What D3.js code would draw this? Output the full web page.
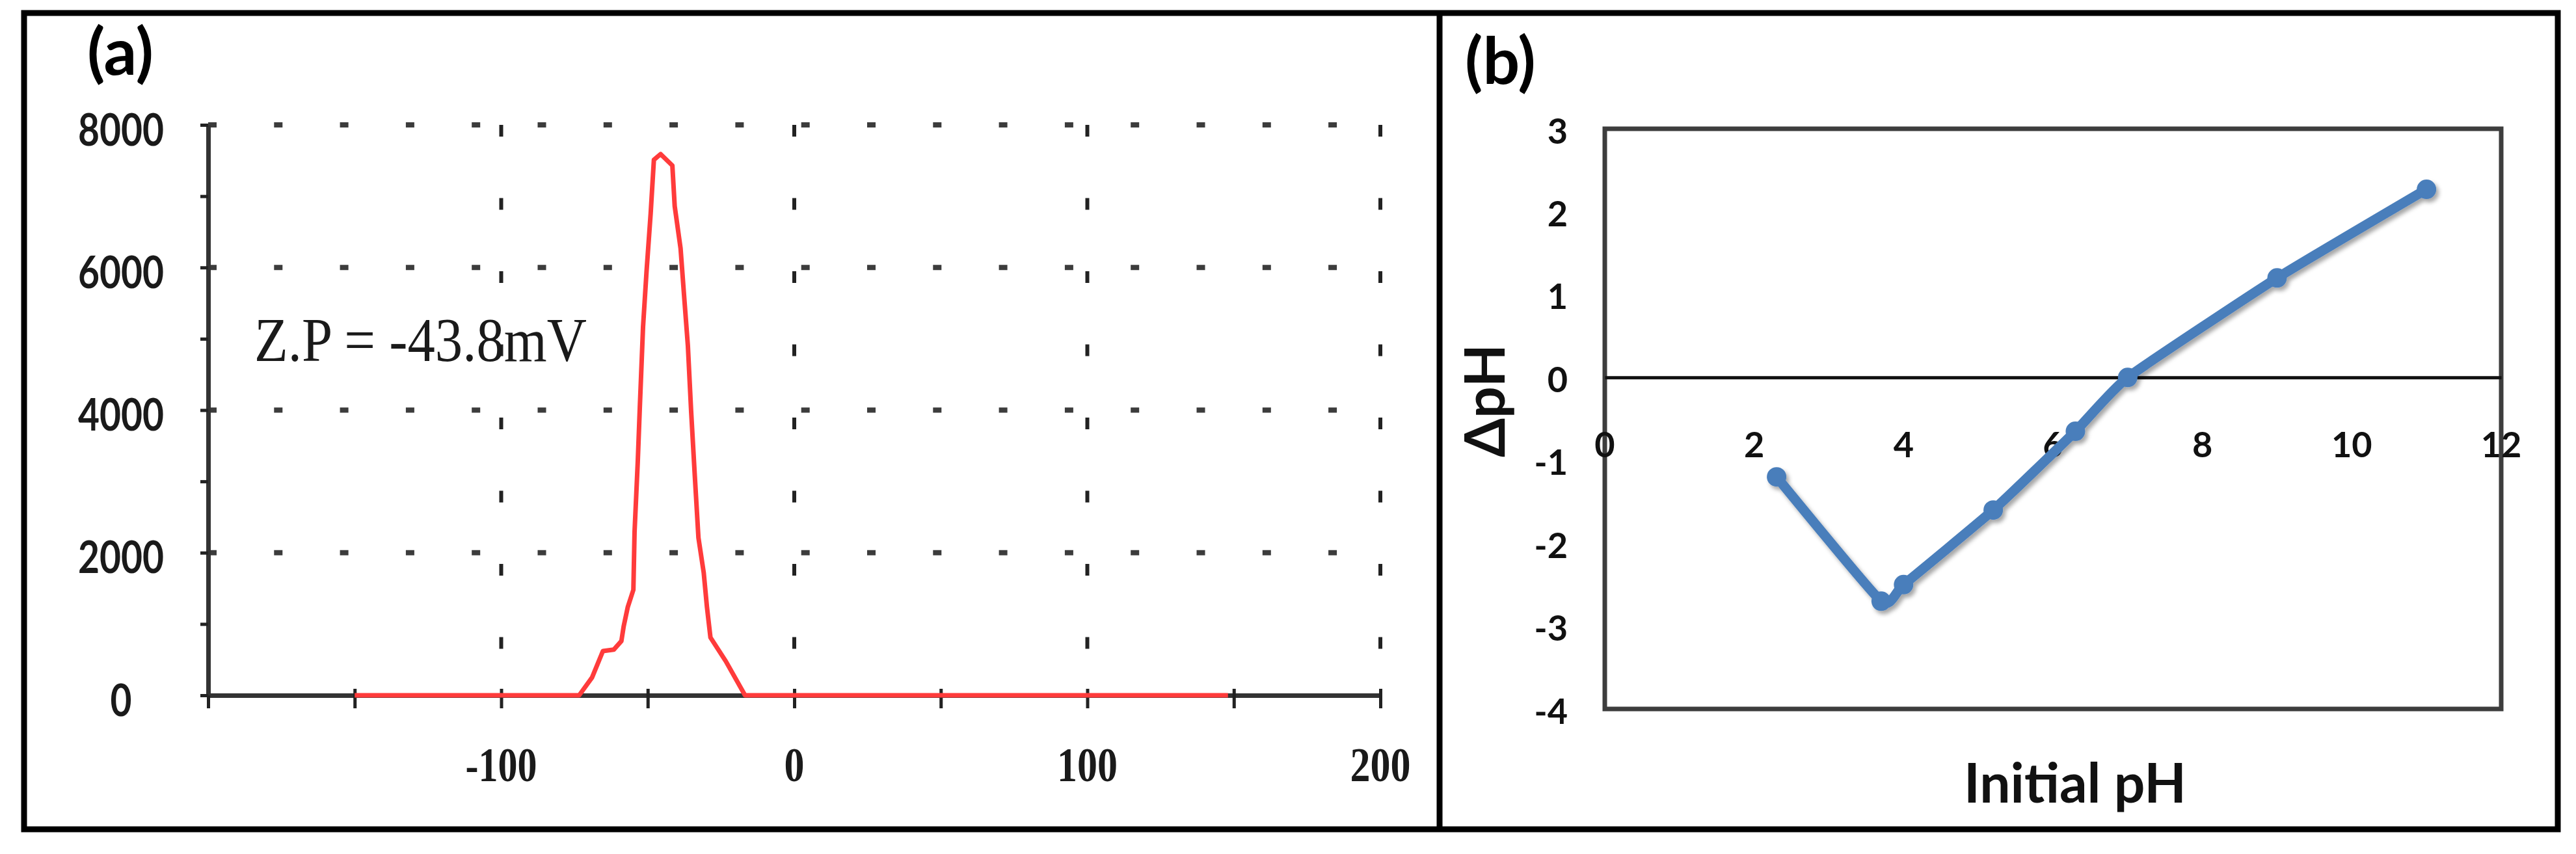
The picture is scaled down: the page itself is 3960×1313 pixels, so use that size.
<!DOCTYPE html>
<html>
<head>
<meta charset="utf-8">
<script src="https://cdn.jsdelivr.net/npm/d3@7"></script>
<style>
  html, body { margin: 0; padding: 0; background: #fff; }
  svg { display: block; }
</style>
</head>
<body>
<div id="chart"></div>
<script>
// panel (a): zeta potential distribution
const zpMv = [-150, -73.4, -69, -65.3, -61.6, -59, -58.2, -56.8, -54.9, -54.5, -53.4, -52.7, -51.6, -50.4,
  -49, -47.9, -45.6, -41.6, -40.8, -38.8, -37.7, -36.3, -35.2, -34, -32.7, -30.9, -29.8, -28.6, -23.4, -16.8, 148]
const zpCounts = [0, 0, 250, 620, 640, 760, 970, 1240, 1480, 2290, 3280, 4040, 5170, 5950,
  6760, 7510, 7590, 7430, 6860, 6270, 5660, 4900, 3990, 3120, 2210, 1720, 1240, 810, 480, 0, 0]
const zpXTicks = [-100, 0, 100, 200]
const zpYTicks = [0, 2000, 4000, 6000, 8000]
const zpLabel = "Z.P = -43.8mV"

// panel (b): point of zero charge
const phInitial = [2.3, 3.7, 4.0, 5.2, 6.3, 7.0, 9.0, 11.0]
const phDelta = [-1.2, -2.7, -2.5, -1.6, -0.65, 0, 1.2, 2.27]
const phXTicks = [0, 2, 4, 6, 8, 10, 12]
const phYTicks = [3, 2, 1, 0, -1, -2, -3, -4]

const width = 3960
const height = 1313

const svg = d3.select("#chart")
    .append("svg")
    .attr("width", width)
    .attr("height", height)
    .attr("viewBox", [0, 0, width, height])

svg.append("rect").attr("width", width).attr("height", height).attr("fill", "#fff")

const defs = svg.append("defs")
defs.append("filter")
    .attr("id", "shadow")
    .attr("x", "-20%").attr("y", "-20%").attr("width", "140%").attr("height", "140%")
    .append("feDropShadow")
    .attr("dx", 4).attr("dy", 5)
    .attr("stdDeviation", 3)
    .attr("flood-color", "#000")
    .attr("flood-opacity", 0.35)

// ---------- panel (a) ----------
const xA = d3.scaleLinear().domain([-200, 200]).range([320, 2122])
const yA = d3.scaleLinear().domain([0, 8000]).range([1069, 192])

const ga = svg.append("g")

// dotted horizontal grid
ga.append("g")
    .selectAll("line")
    .data(zpYTicks.filter(d => d > 0))
    .join("line")
    .attr("x1", xA(-200))
    .attr("x2", xA(200))
    .attr("y1", d => yA(d))
    .attr("y2", d => yA(d))
    .attr("stroke", "#3c3c3c")
    .attr("stroke-width", 8)
    .attr("stroke-dasharray", "13,88.3")

// dashed vertical grid
ga.append("g")
    .selectAll("line")
    .data(zpXTicks)
    .join("line")
    .attr("x1", d => xA(d))
    .attr("x2", d => xA(d))
    .attr("y1", yA(8000))
    .attr("y2", yA(0))
    .attr("stroke", "#222")
    .attr("stroke-width", 6)
    .attr("stroke-dasharray", "18,94.5")

// axes
const axA = ga.append("g")
    .attr("transform", `translate(0,${yA(0)})`)
    .call(d3.axisBottom(xA).tickValues(d3.range(-200, 201, 50)).tickSizeInner(20).tickSizeOuter(0).tickFormat(""))
axA.select(".domain").attr("stroke", "#333").attr("stroke-width", 7)
axA.selectAll(".tick line").attr("y1", -10).attr("stroke", "#222").attr("stroke-width", 5)

const ayA = ga.append("g")
    .attr("transform", `translate(${xA(-200)},0)`)
    .call(d3.axisLeft(yA).tickValues(d3.range(0, 8001, 1000)).tickSizeInner(12).tickSizeOuter(0).tickFormat(""))
ayA.select(".domain").attr("stroke", "#333").attr("stroke-width", 7)
ayA.selectAll(".tick line").attr("stroke", "#222").attr("stroke-width", 5)

// red distribution curve
const lineA = d3.line()
    .x((d, i) => xA(zpMv[i]))
    .y(d => yA(d))

ga.append("path")
    .datum(zpCounts)
    .attr("fill", "none")
    .attr("stroke", "#ff3b3b")
    .attr("stroke-width", 7)
    .attr("stroke-linejoin", "round")
    .attr("d", lineA)

// tick labels
ga.append("g")
    .selectAll("text")
    .data(zpYTicks)
    .join("text")
    .attr("x", 186)
    .attr("y", d => yA(d) + 5)
    .attr("text-anchor", "middle")
    .attr("dominant-baseline", "central")
    .attr("textLength", d => String(d).length * 33)
    .attr("lengthAdjust", "spacingAndGlyphs")
    .style("font", "bold 68px Lato")
    .attr("fill", "#1a1a1a")
    .text(d => d)

ga.append("g")
    .selectAll("text")
    .data(zpXTicks)
    .join("text")
    .attr("x", d => xA(d))
    .attr("y", 1201)
    .attr("text-anchor", "middle")
    .attr("textLength", d => String(d).split("").reduce((s, c) => s + (c === "-" ? 17 : 31), 0))
    .attr("lengthAdjust", "spacingAndGlyphs")
    .style("font", "bold 74px 'Liberation Serif'")
    .attr("fill", "#1a1a1a")
    .text(d => d)

ga.append("text")
    .attr("x", 391)
    .attr("y", 555)
    .attr("textLength", 511)
    .attr("lengthAdjust", "spacingAndGlyphs")
    .style("font", "96px 'Liberation Serif'")
    .attr("fill", "#1a1a1a")
    .text(zpLabel)

ga.append("text")
    .attr("x", 134)
    .attr("y", 115)
    .style("font", "bold 100px Lato")
    .attr("fill", "#000")
    .text("(a)")

// ---------- panel (b) ----------
const xB = d3.scaleLinear().domain([0, 12]).range([2467, 3845])
const yB = d3.scaleLinear().domain([-4, 3]).range([1090, 198])

const gb = svg.append("g")

gb.append("rect")
    .attr("x", xB(0))
    .attr("y", yB(3))
    .attr("width", xB(12) - xB(0))
    .attr("height", yB(-4) - yB(3))
    .attr("fill", "none")
    .attr("stroke", "#3d3d3d")
    .attr("stroke-width", 7)

const axB = gb.append("g")
    .attr("transform", `translate(0,${yB(0)})`)
    .call(d3.axisBottom(xB).tickValues(phXTicks).tickSize(0).tickFormat(""))
axB.select(".domain").attr("stroke", "#111").attr("stroke-width", 5)

gb.append("g")
    .selectAll("text")
    .data(phXTicks)
    .join("text")
    .attr("x", d => xB(d))
    .attr("y", yB(0) + 102)
    .attr("text-anchor", "middle")
    .attr("dominant-baseline", "central")
    .style("font", "bold 54px Lato")
    .attr("fill", "#111")
    .text(d => d)

gb.append("g")
    .selectAll("text")
    .data(phYTicks)
    .join("text")
    .attr("x", 2410)
    .attr("y", d => yB(d) + 2)
    .attr("text-anchor", "end")
    .attr("dominant-baseline", "central")
    .style("font", "bold 54px Lato")
    .attr("fill", "#111")
    .text(d => d)

const series = gb.append("g").attr("filter", "url(#shadow)")

const lineB = d3.line()
    .x((d, i) => xB(phInitial[i]))
    .y(d => yB(d))
    .curve(d3.curveCardinal.tension(0.55))

series.append("path")
    .datum(phDelta)
    .attr("fill", "none")
    .attr("stroke", "#4a7ebb")
    .attr("stroke-width", 15)
    .attr("stroke-linejoin", "round")
    .attr("stroke-linecap", "round")
    .attr("d", lineB)

series.selectAll("circle")
    .data(phDelta)
    .join("circle")
    .attr("cx", (d, i) => xB(phInitial[i]))
    .attr("cy", d => yB(d))
    .attr("r", 15)
    .attr("fill", "#4a7ebb")

gb.append("text")
    .attr("transform", "translate(2313,616) rotate(-90)")
    .attr("text-anchor", "middle")
    .style("font", "bold 86px Lato")
    .attr("fill", "#111")
    .text("ΔpH")

gb.append("text")
    .attr("x", 3190)
    .attr("y", 1234)
    .attr("text-anchor", "middle")
    .style("font", "bold 84px Lato")
    .attr("fill", "#111")
    .text("Initial pH")

gb.append("text")
    .attr("x", 2252)
    .attr("y", 129)
    .style("font", "bold 100px Lato")
    .attr("fill", "#000")
    .text("(b)")

// outer frame and divider
svg.append("rect")
    .attr("x", 37)
    .attr("y", 20)
    .attr("width", 3932 - 37)
    .attr("height", 1275 - 20)
    .attr("fill", "none")
    .attr("stroke", "#000")
    .attr("stroke-width", 9)

svg.append("line")
    .attr("x1", 2213).attr("x2", 2213)
    .attr("y1", 20).attr("y2", 1275)
    .attr("stroke", "#000")
    .attr("stroke-width", 9)
</script>
</body>
</html>
